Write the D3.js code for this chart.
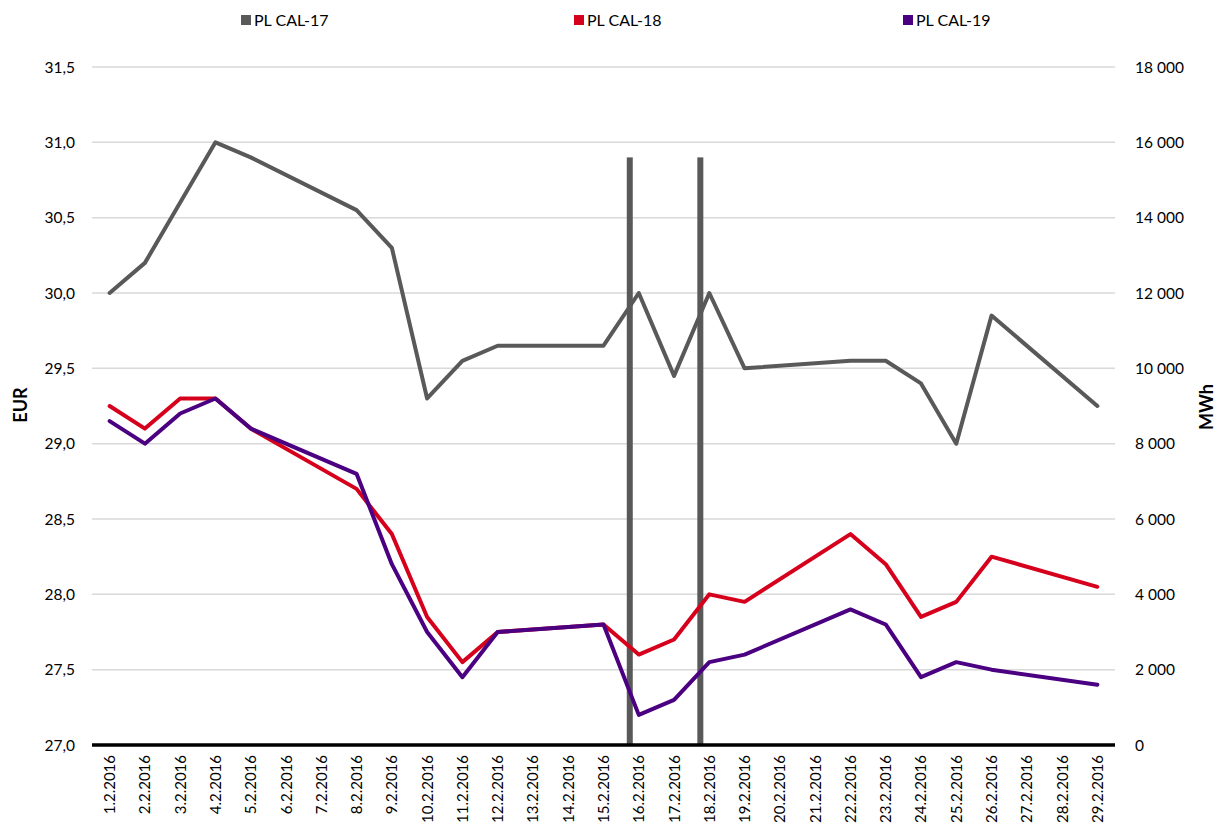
<!DOCTYPE html>
<html><head><meta charset="utf-8">
<script src="https://cdn.jsdelivr.net/npm/d3@7"></script>
<style>body{margin:0;background:#fff;font-family:Lato,"Open Sans",sans-serif;}</style>
</head><body><svg id="c" width="1222" height="830"></svg>
<script>
const categories = ["1.2.2016","2.2.2016","3.2.2016","4.2.2016","5.2.2016","6.2.2016","7.2.2016","8.2.2016","9.2.2016","10.2.2016","11.2.2016","12.2.2016","13.2.2016","14.2.2016","15.2.2016","16.2.2016","17.2.2016","18.2.2016","19.2.2016","20.2.2016","21.2.2016","22.2.2016","23.2.2016","24.2.2016","25.2.2016","26.2.2016","27.2.2016","28.2.2016","29.2.2016"];
const cal17 = [30.0,30.2,30.6,31.0,30.9,null,null,30.55,30.3,29.3,29.55,29.65,null,null,29.65,30.0,29.45,30.0,29.5,null,null,29.55,29.55,29.4,29.0,29.85,null,null,29.25];
const cal18 = [29.25,29.1,29.3,29.3,29.1,null,null,28.7,28.4,27.85,27.55,27.75,null,null,27.8,27.6,27.7,28.0,27.95,null,null,28.4,28.2,27.85,27.95,28.25,null,null,28.05];
const cal19 = [29.15,29.0,29.2,29.3,29.1,null,null,28.8,28.2,27.75,27.45,27.75,null,null,27.8,27.2,27.3,27.55,27.6,null,null,27.9,27.8,27.45,27.55,27.5,null,null,27.4];
const volume = [null,null,null,null,null,null,null,null,null,null,null,null,null,null,null,15600,null,15600,null,null,null,null,null,null,null,null,null,null,null];
const leftTicks = [27.0,27.5,28.0,28.5,29.0,29.5,30.0,30.5,31.0,31.5];
const rightTicks = [0,2000,4000,6000,8000,10000,12000,14000,16000,18000];
const seriesNames = ["PL CAL-17","PL CAL-18","PL CAL-19"];
const colors = ["#595959","#d6001c","#4b0082"];

const svg = d3.select("#c");
const L=92,R=1115,T=67,B=745;
const x = d3.scaleBand().domain(categories).range([L,R]);
const slot = d3.scaleBand().domain([0,1,2,3]).range([0,x.bandwidth()]).paddingOuter(0.94);
const yL = d3.scaleLinear().domain([27,31.5]).range([B,T]);
const yR = d3.scaleLinear().domain([0,18000]).range([B,T]);
const cx = c => x(c)+x.bandwidth()/2;

// gridlines
svg.append("g").selectAll("line").data(leftTicks.slice(1)).join("line")
  .attr("x1",L).attr("x2",R).attr("y1",d=>yL(d)).attr("y2",d=>yL(d))
  .attr("stroke","#d9d9d9").attr("stroke-width",1.5);

// left axis labels
const fmtL = d3.format(".1f");
svg.append("g").selectAll("text").data(leftTicks).join("text")
  .attr("x",75).attr("y",d=>yL(d)).attr("dy","0.36em").attr("text-anchor","end")
  .attr("font-size",15.5).attr("fill","#000").text(d=>fmtL(d).replace(".",","));
// right axis labels
svg.append("g").selectAll("text").data(rightTicks).join("text")
  .attr("x",1135).attr("y",d=>yR(d)).attr("dy","0.36em").attr("text-anchor","start")
  .attr("font-size",15.5).attr("fill","#000").text(d=>d3.format(",")(d).replace(/,/g," "));

// bars
const bw = 6;
svg.append("g").selectAll("rect").data(categories.map((c,i)=>({c,v:volume[i]})).filter(d=>d.v!=null)).join("rect")
  .attr("x",d=>x(d.c)+slot(0)+slot.bandwidth()/2-bw/2).attr("width",bw)
  .attr("y",d=>yR(d.v)).attr("height",d=>yR(0)-yR(d.v)).attr("fill","#595959");

// lines
const line = d3.line().x(d=>cx(d.c)).y(d=>yL(d.v)).curve(d3.curveLinear);
[cal17,cal18,cal19].forEach((s,k)=>{
  const pts = categories.map((c,i)=>({c,v:s[i]})).filter(d=>d.v!=null);
  svg.append("path").datum(pts).attr("d",line).attr("fill","none")
    .attr("stroke",colors[k]).attr("stroke-width",4).attr("stroke-linejoin","round").attr("stroke-linecap","round");
});

// bottom axis line
svg.append("line").attr("x1",L).attr("x2",R).attr("y1",B).attr("y2",B).attr("stroke","#000").attr("stroke-width",3.5);

// x labels
svg.append("g").selectAll("text").data(categories).join("text")
  .attr("transform",d=>`translate(${cx(d)+5.5},755) rotate(-90)`)
  .attr("text-anchor","end").attr("font-size",15).attr("fill","#000").text(d=>d);

// axis titles
svg.append("text").attr("transform","translate(27,405) rotate(-90)").attr("text-anchor","middle")
  .attr("font-size",18).attr("font-weight","bold").text("EUR");
svg.append("text").attr("transform","translate(1213,407) rotate(-90)").attr("text-anchor","middle")
  .attr("font-size",18).attr("font-weight","bold").text("MWh");

// legend
const lx=[241,574,903];
const lg = svg.append("g").selectAll("g").data(seriesNames).join("g").attr("transform",(d,i)=>`translate(${lx[i]},20)`);
lg.append("rect").attr("x",0).attr("y",-5).attr("width",10).attr("height",10).attr("fill",(d,i)=>colors[i]);
lg.append("text").attr("x",13).attr("dy","0.36em").attr("font-size",16).text(d=>d);
</script></body></html>
